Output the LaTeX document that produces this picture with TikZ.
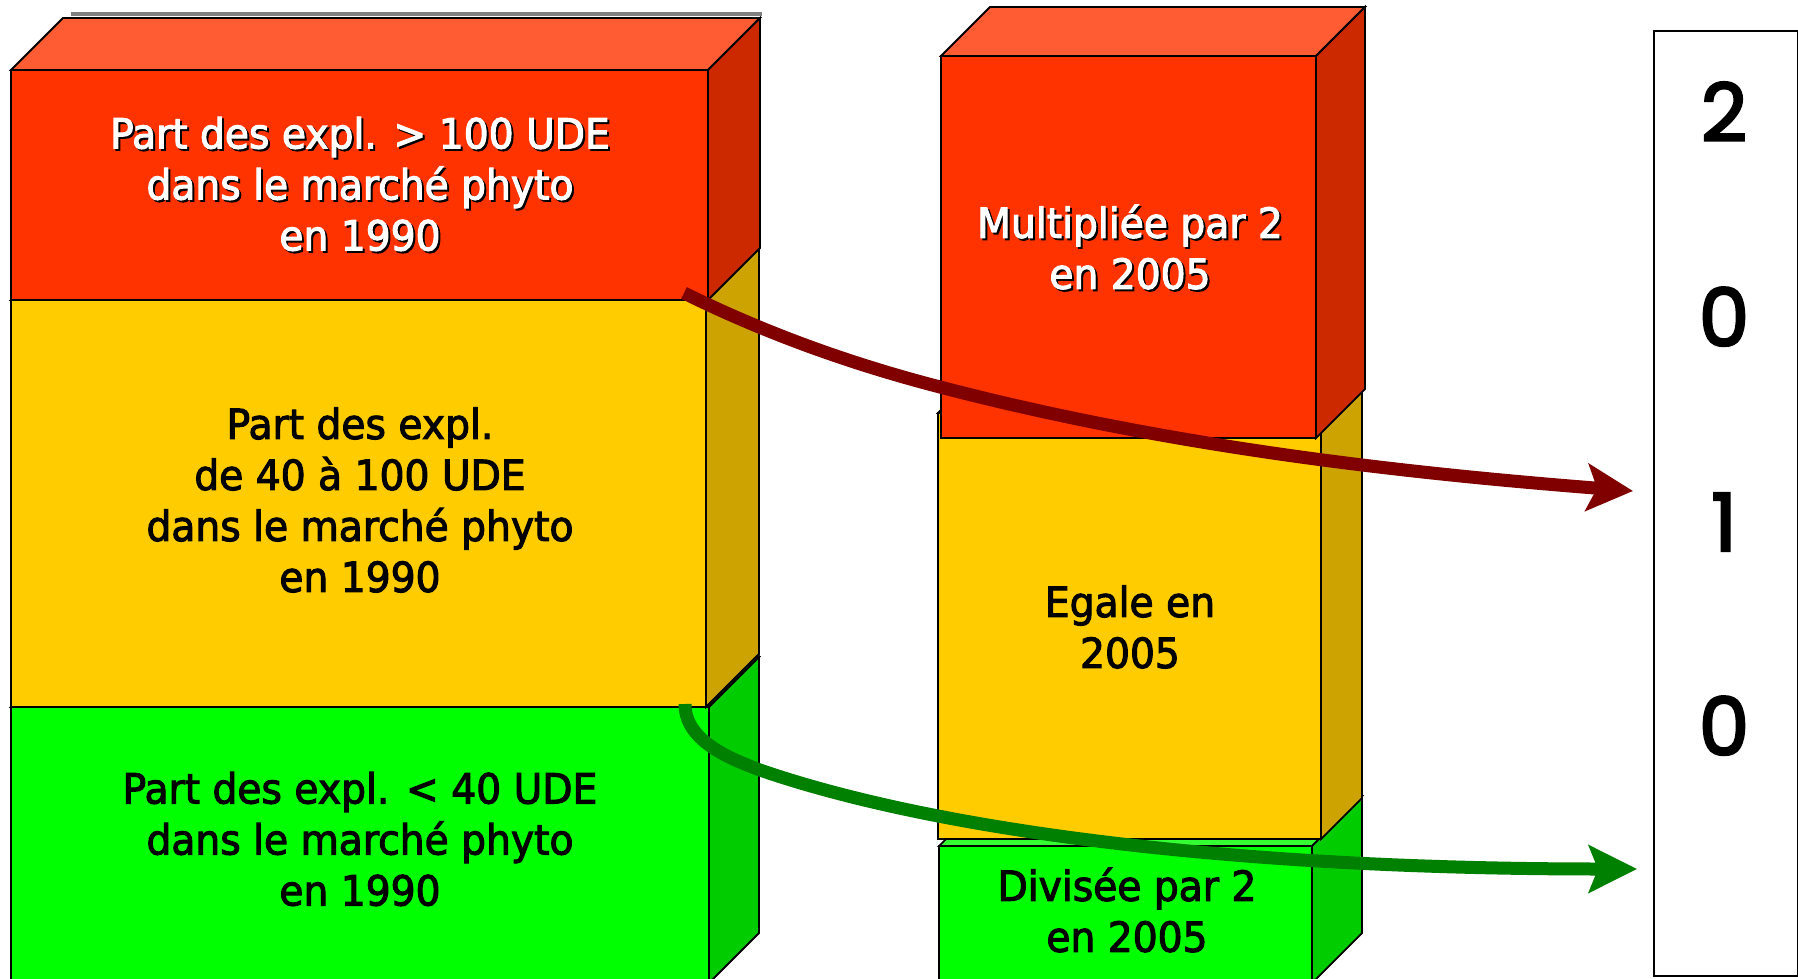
\documentclass[tikz,border=0pt]{standalone}
\usepackage{fontspec}
\newfontfamily\boxfont[FakeStretch=0.945,FakeBold=2.5]{DejaVu Sans}
\newfontfamily\digitfont[FakeBold=3]{Poppins}
\usetikzlibrary{arrows.meta}
\definecolor{redF}{HTML}{FF3300}
\definecolor{redT}{HTML}{FF5C33}
\definecolor{redS}{HTML}{CC2900}
\definecolor{yelF}{HTML}{FFCC00}
\definecolor{yelT}{HTML}{FFD633}
\definecolor{yelS}{HTML}{CCA300}
\definecolor{greF}{HTML}{00FF00}
\definecolor{greT}{HTML}{33FF33}
\definecolor{greS}{HTML}{00CC00}
\definecolor{arrRed}{HTML}{800000}
\definecolor{arrGreen}{HTML}{008000}
% #1,#2 front top-left; #3,#4 front bottom-right; #5 depth; #6 front; #7 top; #8 side
\newcommand\drawcube[8]{%
  \draw[edge,fill=#7] (#1,#2) -- ({#1+#5},{#2-#5}) -- ({#3+#5},{#2-#5}) -- (#3,#2) -- cycle;
  \draw[edge,fill=#8] (#3,#2) -- ({#3+#5},{#2-#5}) -- ({#3+#5},{#4-#5}) -- (#3,#4) -- cycle;
  \draw[edge,fill=#6] (#1,#2) rectangle (#3,#4);
}
\tikzset{
  edge/.style={draw=black,line width=1.8pt,line join=miter},
  boxtext/.style={font=\boxfont\fontsize{41.5}{51}\selectfont,align=center,inner sep=0pt},
  wtxt/.style={boxtext,text=white},
  stxt/.style={boxtext,text=black},
  btxt/.style={boxtext,text=black},
  digit/.style={font=\digitfont\fontsize{80}{80}\selectfont,inner sep=0pt,anchor=base},
  redarrow/.style={draw=arrRed,line width=13pt,-{Stealth[length=46pt,width=47pt,inset=10pt]}},
  greenarrow/.style={draw=arrGreen,line width=13pt,-{Stealth[length=48pt,width=47pt,inset=9pt]}},
}
\begin{document}
\begin{tikzpicture}[x=1pt,y=-1pt]
\useasboundingbox[fill=white] (0,0) rectangle (1798,979);
\begin{scope}
\clip (0,0) rectangle (1798,979);
% top shadow line
\draw[gray,line width=3.5pt] (71,14) -- (762,14);
% left column
\drawcube{11}{707}{709}{983}{50}{greF}{greT}{greS}
\drawcube{11}{300}{706}{707}{53}{yelF}{yelT}{yelS}
\drawcube{11}{70}{708}{300}{52}{redF}{redT}{redS}
% middle column
\drawcube{939}{846}{1312}{983}{50}{greF}{greT}{greS}
\drawcube{938}{413}{1321}{839}{41}{yelF}{yelT}{yelS}
\drawcube{941}{56}{1316}{438}{49}{redF}{redT}{redS}
\end{scope}
% texts
\node[stxt] (t1s) at (362,186) {Part des expl. > 100 UDE\\dans le marché phyto\\en 1990};
\node[wtxt] (t1) at (360,184) {Part des expl. > 100 UDE\\dans le marché phyto\\en 1990};
\node[btxt] (t2) at (360,500) {Part des expl.\\de 40 à 100 UDE\\dans le marché phyto\\en 1990};
\node[btxt] (t3) at (360,839) {Part des expl. < 40 UDE\\dans le marché phyto\\en 1990};
\node[stxt] (t4s) at (1132,249) {Multipliée par 2\\en 2005};
\node[wtxt] (t4) at (1130,247) {Multipliée par 2\\en 2005};
\node[btxt] (t5) at (1130,627) {Egale en\\2005};
\node[btxt] (t6) at (1127,910) {Divisée par 2\\en 2005};
% right box
\node[draw=black,line width=1.8pt,minimum width=144pt,minimum height=945pt,inner sep=0pt,anchor=north west] (r2010) at (1653,30) {};
\node[digit] (d1) at (1724,141) {2};
\node[digit] (d2) at (1724,346) {0};
\node[digit] (d3) at (1724,551) {1};
\node[digit] (d4) at (1724,755) {0};
% arrows
\coordinate (rs) at (684,293);
\coordinate (rm) at (940,387);
\coordinate (re) at (1633,491);
\coordinate (gs) at (685,704);
\coordinate (gm) at (760,770);
\coordinate (ge) at (1637,869);
\draw[redarrow] (rs) .. controls (769,335) and (855,365) .. (rm) .. controls (1170,447) and (1403,473) .. (re);
\draw[greenarrow] (gs) .. controls (685,739) and (725,757) .. (gm) .. controls (910,822) and (1187,869) .. (ge);
\end{tikzpicture}
\end{document}
